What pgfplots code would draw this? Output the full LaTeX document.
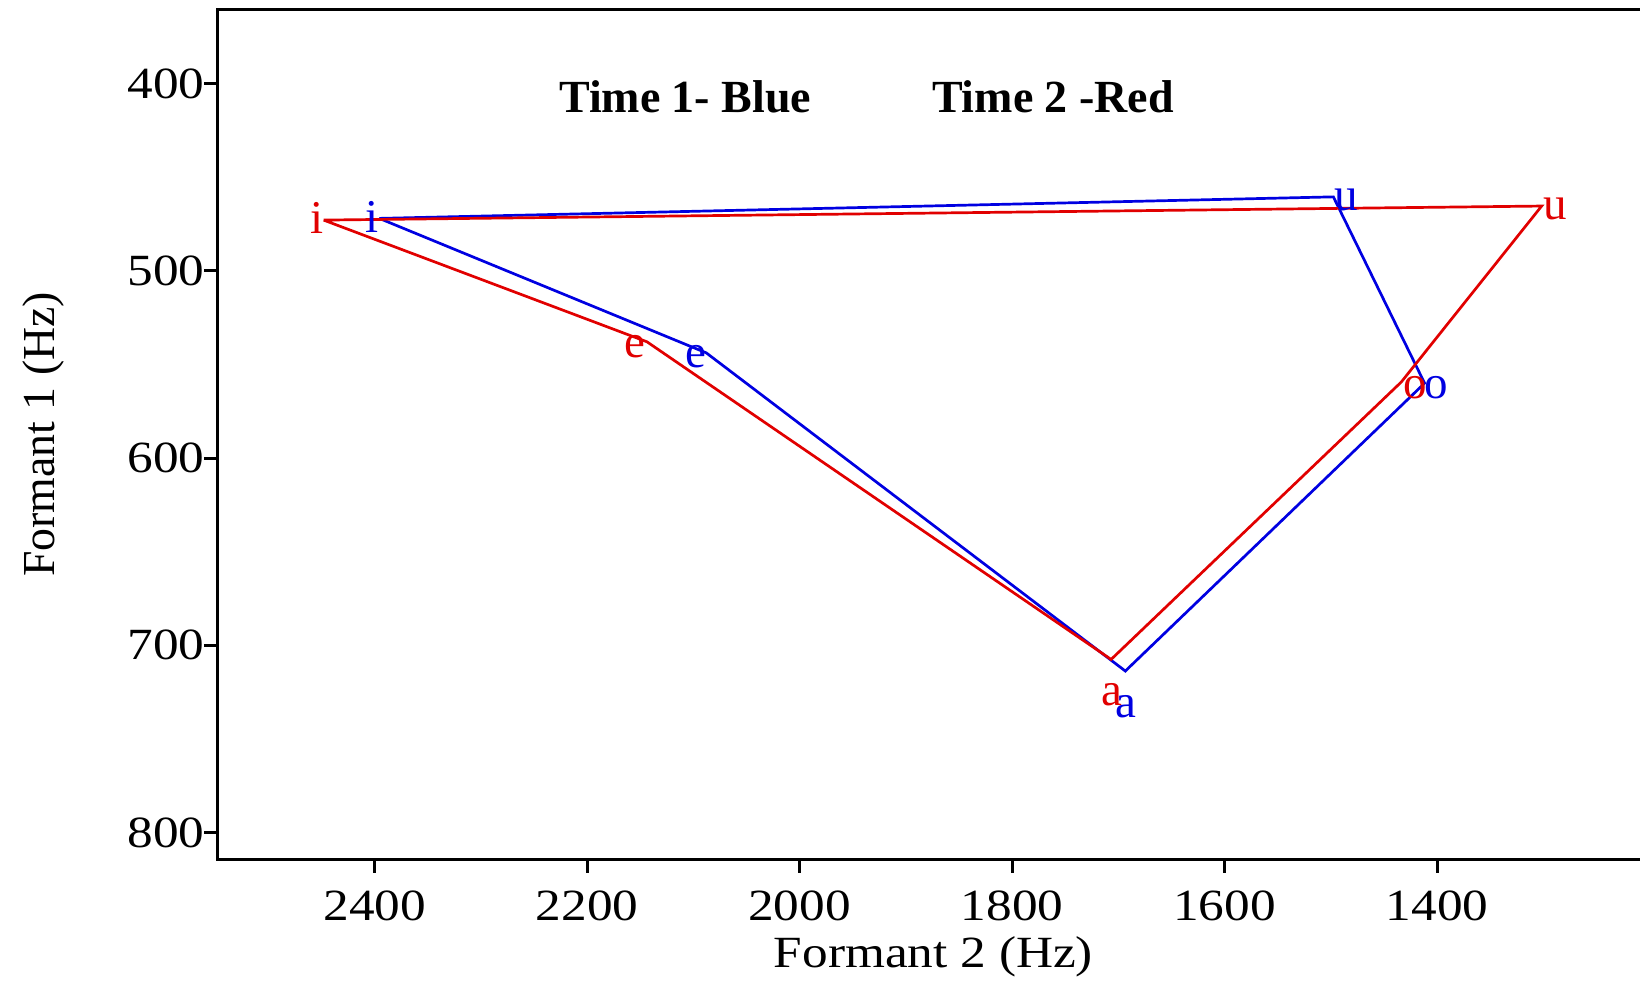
\documentclass[border=0pt]{standalone}
\usepackage{fontspec}
\setmainfont{Liberation Serif}
\newfontfamily\widefont{Liberation Serif}[FakeStretch=1.15]
\usepackage{pgfplots}
\pgfplotsset{compat=1.18}
\definecolor{vblue}{RGB}{0,0,225}
\definecolor{vred}{RGB}{225,0,0}

\begin{document}
\begin{tikzpicture}
\begin{axis}[
  name=ax,
  scale only axis, width=716bp, height=425.1bp,
  x dir=reverse, y dir=reverse,
  xmin=1200, xmax=2548, ymin=360.4, ymax=814.4,
  xtick={1400,1600,...,2400}, ytick={400,500,...,800},
  tick pos=left, tick align=outside, major tick length=6.5bp,
  axis line style={line width=1.5bp},
  every tick/.style={black, line width=1.5bp},
  /pgf/number format/assume math mode=true,
  /pgf/number format/1000 sep={},
  ticklabel style={font=\widefont\fontsize{22.3bp}{26bp}\selectfont},
  xticklabel style={anchor=base, yshift=-23.7bp},
  yticklabel style={anchor=east, xshift=3.5bp},
  xlabel={Formant 2 (Hz)},
  ylabel={Formant 1 (Hz)},
  xlabel style={font=\widefont\fontsize{22.3bp}{26bp}\selectfont,
                at={(axis description cs:0.5,-0.127)}, anchor=base},
  ylabel style={font=\fontsize{22.9bp}{26bp}\selectfont,
                at={(axis description cs:-0.1213,0.5)}, anchor=center},
  clip=false,
]
% Time 1 vowel polygon: i, e, a, o, u
\addplot[vblue, line width=1.35bp, line join=miter] coordinates {
  (2395.7,472.0) (2087.9,543.8) (1693.4,713.7) (1411.7,560.0) (1497.6,460.5) (2395.7,472.0)
};
% Time 2 vowel polygon: i, e, a, o, u
\addplot[vred, line width=1.35bp, line join=miter] coordinates {
  (2448.1,472.9) (2143.7,537.9) (1706.8,707.5) (1433.7,559.4) (1301.5,465.4) (2448.1,472.9)
};

% vowel labels
\begin{scope}[every node/.style={font=\fontsize{23.5bp}{28bp}\selectfont, inner sep=0pt, anchor=center}]
\node[text=vred]  at (axis cs:2454,472.0) {i};
\node[text=vblue] at (axis cs:2402.5,471.1) {i};
\node[text=vred]  at (axis cs:2154.7,540.6) {e};
\node[text=vblue] at (axis cs:2097.3,545.9) {e};
\node[text=vred]  at (axis cs:1706.1,726.6) {a};
\node[text=vblue] at (axis cs:1692.7,732.8) {a};
\node[text=vblue] at (axis cs:1485,462.2) {u};
\node[text=vred]  at (axis cs:1289,467.2) {u};
\node[text=vred]  at (axis cs:1420.7,562.5) {o};
\node[text=vblue] at (axis cs:1400.3,562.5) {o};
\end{scope}

% key text
\node[font=\bfseries\fontsize{23bp}{27bp}\selectfont, anchor=center] at (axis cs:2107.7,407.2) {Time 1- Blue};
\node[font=\bfseries\fontsize{23bp}{27bp}\selectfont, anchor=center] at (axis cs:1761.5,407.2) {Time 2 -Red};
\end{axis}
\pgfresetboundingbox
\path[use as bounding box] ([shift={(-108.75bp,-60.7bp)}]ax.south west) rectangle ([shift={(711.25bp,429.8bp)}]ax.south west);
\end{tikzpicture}
\end{document}
